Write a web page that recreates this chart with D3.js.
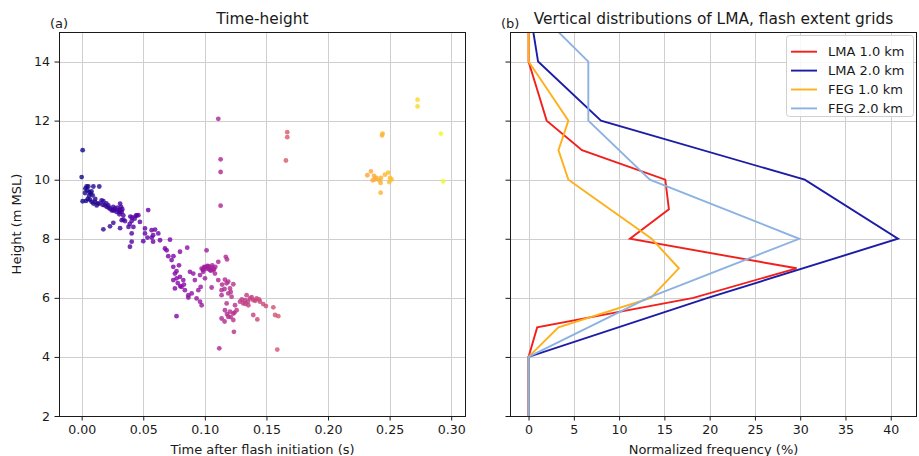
<!DOCTYPE html>
<html>
<head>
<meta charset="utf-8">
<script src="https://cdn.jsdelivr.net/npm/d3@7"></script>
<style>
  body { margin: 0; background: #fff; }
  svg { display: block; font-family: "DejaVu Sans", sans-serif; }
</style>
</head>
<body>
<div id="chart"></div>
<script>
"use strict";

// ---- data -------------------------------------------------------------
// LMA source times (s after flash initiation) and heights (km MSL)
const flashTime = [
    0.0008, 0.0000, 0.0040, 0.0054, 0.0095, 0.0143, 0.0027, 0.0046, 0.0062, 0.0073,
    0.0089, 0.0008, 0.0035, 0.0068, 0.0081, 0.0095, 0.0108, 0.0122, 0.0143, 0.0162,
    0.0176, 0.0189, 0.0203, 0.0216, 0.0230, 0.0244, 0.0257, 0.0271, 0.0284, 0.0298,
    0.0312, 0.0320, 0.0325, 0.0306, 0.0338, 0.0447, 0.0257, 0.0312, 0.0339, 0.0176,
    0.0230, 0.0257, 0.0312, 0.0325, 0.0352, 0.0380, 0.0540, 0.0460, 0.0430, 0.0406,
    0.0473, 0.0420, 0.0406, 0.0406, 0.0392, 0.0514, 0.0514, 0.0568, 0.0580, 0.0622,
    0.0636, 0.0580, 0.0500, 0.0717, 0.0676, 0.0690, 0.0703, 0.0798, 0.0857, 0.0534,
    0.0569, 0.0745, 0.0596, 0.0395, 0.0410, 0.0440, 0.0390, 0.0730, 0.0744, 0.0757,
    0.0744, 0.0771, 0.0798, 0.0825, 0.0757, 0.0810, 0.0838, 0.0866, 0.0879, 0.0906,
    0.0919, 0.0961, 0.0947, 0.0933, 0.0961, 0.0974, 0.0866, 0.0893, 0.1014, 0.0974,
    0.1001, 0.1028, 0.1055, 0.0987, 0.1042, 0.1069, 0.1082, 0.1109, 0.1170, 0.1180,
    0.1109, 0.1163, 0.1055, 0.1136, 0.1001, 0.0966, 0.1177, 0.1204, 0.1231, 0.1190,
    0.1136, 0.1217, 0.1177, 0.1163, 0.1204, 0.1190, 0.1231, 0.1258, 0.1231, 0.1136,
    0.1245, 0.1285, 0.1326, 0.1339, 0.1366, 0.1393, 0.1420, 0.1447, 0.1474, 0.1496,
    0.1393, 0.1426, 0.1556, 0.1570, 0.1596, 0.1312, 0.1353, 0.0770, 0.1236, 0.1117,
    0.1588, 0.1109, 0.1128, 0.1128, 0.1128, 0.1669, 0.1669, 0.1658, 0.2348, 0.2319,
    0.2373, 0.2381, 0.2394, 0.2416, 0.2430, 0.2427, 0.2462, 0.2489, 0.2503, 0.2497,
    0.2516, 0.2427, 0.2362, 0.2443, 0.2438, 0.2727, 0.2727, 0.2916, 0.2935,
    0.0995, 0.1015, 0.1035, 0.1050, 0.1075, 0.1085, 0.0985, 0.1020, 0.1060, 0.1140,
    0.1160, 0.1190, 0.1210, 0.1300, 0.1350, 0.1380, 0.1410, 0.1440, 0.1330, 0.1180,
    0.1210, 0.1240, 0.1160, 0.0780, 0.0800, 0.0830, 0.0770, 0.0790, 0.0030, 0.0060,
    0.0080, 0.0110, 0.0130, 0.0050, 0.0170, 0.0200, 0.0220, 0.0260, 0.0290, 0.0310,
    0.0330
];
const flashHeight = [
    11.00, 10.09, 9.77, 9.77, 9.77, 9.77, 9.55, 9.64, 9.58, 9.53,
    9.47, 9.27, 9.28, 9.32, 9.25, 9.19, 9.25, 9.13, 9.19, 9.30,
    9.27, 9.13, 9.08, 9.13, 9.02, 8.96, 9.08, 9.02, 8.91, 8.96,
    9.19, 9.08, 8.91, 8.83, 8.79, 8.79, 8.99, 8.99, 8.65, 8.32,
    8.42, 8.54, 8.36, 8.63, 8.60, 8.40, 8.97, 8.80, 8.68, 8.60,
    8.57, 8.40, 8.18, 7.90, 7.73, 8.35, 8.18, 8.29, 8.12, 8.18,
    7.95, 7.90, 7.92, 7.97, 7.67, 7.61, 7.41, 7.56, 7.70, 8.04,
    8.04, 7.41, 8.31, 8.75, 8.72, 8.78, 8.50, 7.28, 7.05, 6.82,
    6.60, 6.66, 6.71, 6.60, 6.32, 6.37, 6.26, 6.09, 6.88, 6.82,
    6.60, 6.77, 6.26, 5.98, 5.87, 5.75, 6.01, 6.15, 7.61, 6.99,
    7.03, 7.07, 7.03, 6.88, 6.94, 6.94, 6.82, 7.22, 7.39, 7.30,
    6.60, 6.62, 6.35, 6.26, 6.66, 6.37, 6.49, 6.32, 6.46, 6.15,
    6.09, 6.04, 5.81, 5.58, 5.53, 5.36, 5.47, 5.58, 5.25, 5.30,
    5.75, 5.87, 5.92, 6.09, 5.98, 5.92, 5.98, 5.87, 5.79, 5.72,
    5.42, 5.27, 5.68, 5.42, 5.38, 5.81, 5.75, 5.38, 4.85, 4.29,
    4.25, 12.06, 10.69, 10.26, 9.12, 11.61, 11.44, 10.65, 10.28, 10.15,
    10.13, 10.01, 10.06, 9.98, 10.06, 9.89, 10.17, 10.24, 10.06, 9.92,
    10.01, 9.56, 9.98, 11.56, 11.50, 12.71, 12.48, 11.56, 9.94,
    7.05, 6.98, 7.00, 6.92, 6.98, 7.05, 6.95, 7.08, 7.10, 6.45,
    6.30, 6.55, 6.20, 5.95, 5.88, 6.02, 5.90, 5.95, 5.80, 5.45,
    5.35, 5.50, 5.20, 6.50, 6.40, 6.45, 6.90, 7.10, 9.70, 9.45,
    9.60, 9.35, 9.20, 9.35, 9.15, 9.20, 9.05, 8.95, 9.05, 8.90,
    9.00
];

// vertical profiles, normalized frequency (%) by height bin (km)
const heights1km = [2, 3, 4, 5, 6, 7, 8, 9, 10, 11, 12, 13, 14, 15, 16];
const lma1km = [0, 0, 0, 0.95, 18.2, 29.6, 11.2, 15.5, 15.1, 5.9, 2.0, 1.0, 0, 0, 0];
const feg1km = [0, 0, 0, 3.3, 13.5, 16.6, 13.6, 9.0, 4.4, 3.3, 4.4, 2.2, 0, 0, 0];
const heights2km = [2, 4, 6, 8, 10, 12, 14, 16];
const lma2km = [0, 0, 19.8, 40.8, 30.5, 8.0, 1.05, 0];
const feg2km = [0, 0, 13.2, 29.9, 13.4, 6.6, 6.6, 0];

const timeTicks = [0, 0.05, 0.10, 0.15, 0.20, 0.25, 0.30];
const freqTicks = [0, 5, 10, 15, 20, 25, 30, 35, 40];
const heightTicks = [2, 4, 6, 8, 10, 12, 14];

const profiles = [
    {label: "LMA 1.0 km", h: heights1km, v: lma1km, color: "#f2201c"},
    {label: "LMA 2.0 km", h: heights2km, v: lma2km, color: "#1c1ca6"},
    {label: "FEG 1.0 km", h: heights1km, v: feg1km, color: "#fdb01c"},
    {label: "FEG 2.0 km", h: heights2km, v: feg2km, color: "#8cb2e2"}
];

// ---- layout -----------------------------------------------------------
const WIDTH = 919, HEIGHT = 456;
const TOP = 32, BOTTOM = 416;
const LEFT_A = 59, RIGHT_A = 466;
const LEFT_B = 510, RIGHT_B = 917;
const TEXT = "#1a1a1a";
const GRID = "#cfcfcf";

const svg = d3.select("#chart").append("svg")
    .attr("width", WIDTH)
    .attr("height", HEIGHT);

const y = d3.scaleLinear().domain([2, 15]).range([BOTTOM, TOP]);
const xTime = d3.scaleLinear().domain([-0.0184, 0.312]).range([LEFT_A, RIGHT_A]);
const xFreq = d3.scaleLinear().domain([-2.05, 42.9]).range([LEFT_B, RIGHT_B]);

function drawGrid(x, xTicksList, x0, x1) {
    const g = svg.append("g").attr("stroke", GRID).attr("stroke-width", 1);
    xTicksList.forEach(function (t) {
        const px = Math.round(x(t)) + 0.5;
        g.append("line").attr("x1", px).attr("x2", px).attr("y1", TOP).attr("y2", BOTTOM);
    });
    heightTicks.forEach(function (t) {
        const py = Math.round(y(t)) + 0.5;
        g.append("line").attr("x1", x0).attr("x2", x1).attr("y1", py).attr("y2", py);
    });
}

function styleAxis(g) {
    g.select(".domain").remove();
    g.selectAll(".tick line").attr("stroke", TEXT);
    g.selectAll(".tick text").attr("fill", TEXT).style("font-size", "12.6px")
        .style("font-family", "DejaVu Sans, sans-serif");
}

function drawAxes(x, xTicksList, fmt, x0, x1, showYLabels) {
    svg.append("g")
        .attr("transform", "translate(0," + BOTTOM + ")")
        .call(d3.axisBottom(x).tickValues(xTicksList).tickFormat(fmt)
            .tickSize(4.5).tickPadding(4.5))
        .call(styleAxis);
    svg.append("g")
        .attr("transform", "translate(" + x0 + ",0)")
        .call(d3.axisLeft(y).tickValues(heightTicks)
            .tickFormat(showYLabels ? d3.format("d") : "")
            .tickSize(4.5).tickPadding(4.5))
        .call(styleAxis);
    svg.append("rect")
        .attr("x", x0 + 0.5).attr("y", TOP + 0.5)
        .attr("width", x1 - x0 - 1).attr("height", BOTTOM - TOP)
        .attr("fill", "none").attr("stroke", TEXT).attr("stroke-width", 1);
}

function addText(x, yy, str, size, anchor) {
    return svg.append("text")
        .attr("x", x).attr("y", yy)
        .attr("text-anchor", anchor || "middle")
        .attr("fill", TEXT)
        .style("font-size", size + "px")
        .text(str);
}

// ---- panel (a): time-height scatter -----------------------------------
drawGrid(xTime, timeTicks, LEFT_A, RIGHT_A);

const color = d3.scaleSequential(d3.interpolatePlasma)
    .domain([0, d3.max(flashTime)]);

const points = flashTime.map(function (t, i) {
    return {t: t, h: flashHeight[i]};
}).sort(function (a, b) { return a.t - b.t; });

svg.append("g")
    .selectAll("circle")
    .data(points)
    .enter()
    .append("circle")
    .attr("cx", function (d) { return xTime(d.t); })
    .attr("cy", function (d) { return y(d.h); })
    .attr("r", 2.4)
    .attr("fill", function (d) { return color(d.t); })
    .attr("fill-opacity", 0.8);

drawAxes(xTime, timeTicks, d3.format(".2f"), LEFT_A, RIGHT_A, true);

addText((LEFT_A + RIGHT_A) / 2, 24, "Time-height", 15.4);
addText(50, 28, "(a)", 13, "start");
addText((LEFT_A + RIGHT_A) / 2, 453.5, "Time after flash initiation (s)", 13);
svg.append("text")
    .attr("transform", "translate(21," + (TOP + BOTTOM) / 2 + ") rotate(-90)")
    .attr("text-anchor", "middle")
    .attr("fill", TEXT)
    .style("font-size", "13px")
    .text("Height (m MSL)");

// ---- panel (b): vertical distributions --------------------------------
drawGrid(xFreq, freqTicks, LEFT_B, RIGHT_B);

svg.append("defs").append("clipPath")
    .attr("id", "clip-b")
    .append("rect")
    .attr("x", LEFT_B).attr("y", TOP)
    .attr("width", RIGHT_B - LEFT_B).attr("height", BOTTOM - TOP);

const line = d3.line()
    .x(function (d) { return xFreq(d[1]); })
    .y(function (d) { return y(d[0]); });

svg.append("g")
    .attr("clip-path", "url(#clip-b)")
    .selectAll("path")
    .data(profiles)
    .enter()
    .append("path")
    .attr("d", function (p) { return line(d3.zip(p.h, p.v)); })
    .attr("fill", "none")
    .attr("stroke", function (p) { return p.color; })
    .attr("stroke-width", 1.9)
    .attr("stroke-linejoin", "miter");

drawAxes(xFreq, freqTicks, d3.format("d"), LEFT_B, RIGHT_B, false);

addText((LEFT_B + RIGHT_B) / 2, 24, "Vertical distributions of LMA, flash extent grids", 15.4);
addText(501, 28, "(b)", 13, "start");
addText((LEFT_B + RIGHT_B) / 2, 453.5, "Normalized frequency (%)", 13);

// legend
const legend = svg.append("g").attr("transform", "translate(786.5,35.5)");
legend.append("rect")
    .attr("width", 127).attr("height", 81).attr("rx", 3)
    .attr("fill", "#fff").attr("fill-opacity", 0.85)
    .attr("stroke", "#d0d0d0");
profiles.forEach(function (p, i) {
    const cy = 16.2 + i * 18.9;
    legend.append("line")
        .attr("x1", 4.5).attr("x2", 30.5).attr("y1", cy).attr("y2", cy)
        .attr("stroke", p.color).attr("stroke-width", 1.9);
    legend.append("text")
        .attr("x", 41.5).attr("y", cy)
        .attr("dy", "0.36em")
        .attr("fill", TEXT)
        .style("font-size", "13px")
        .text(p.label);
});
</script>
</body>
</html>
